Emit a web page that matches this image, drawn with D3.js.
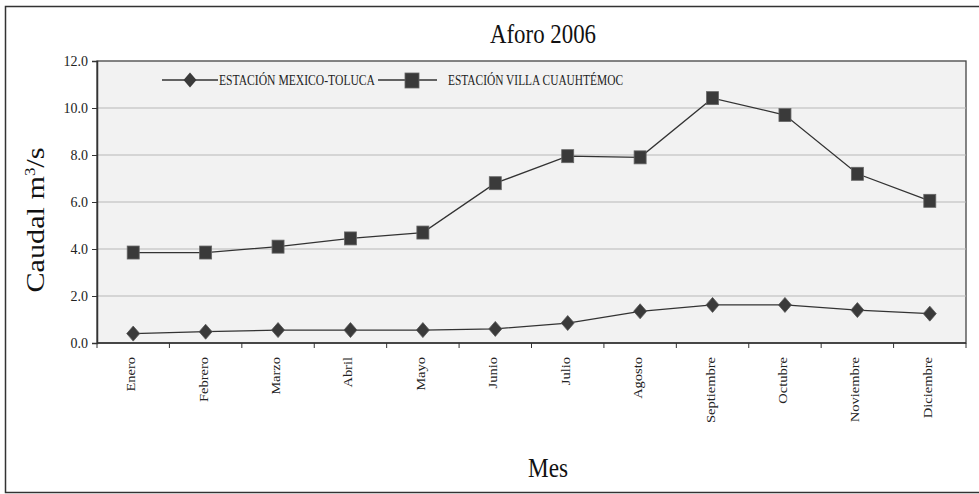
<!DOCTYPE html>
<html>
<head>
<meta charset="utf-8">
<script src="https://cdn.jsdelivr.net/npm/d3@7"></script>
<style>
  html, body { margin: 0; padding: 0; background: #fff; }
  svg { display: block; font-family: "Liberation Serif", "Times New Roman", serif; }
  svg text { font-family: "Liberation Serif", "Times New Roman", serif; }
</style>
</head>
<body>
<svg id="chart" width="979" height="494"></svg>
<script>
// Monthly discharge (m³/s), 2006
const months = ["Enero", "Febrero", "Marzo", "Abril", "Mayo", "Junio", "Julio",
                "Agosto", "Septiembre", "Octubre", "Noviembre", "Diciembre"];
const mexicoToluca = [0.40, 0.48, 0.55, 0.55, 0.55, 0.60, 0.85, 1.35, 1.62, 1.62, 1.40, 1.25];
const villaCuauhtemoc = [3.85, 3.85, 4.10, 4.45, 4.70, 6.80, 7.95, 7.90, 10.42, 9.70, 7.20, 6.05];
const yTicks = [0, 2, 4, 6, 8, 10, 12];
const seriesNames = ["ESTACIÓN MEXICO-TOLUCA", "ESTACIÓN VILLA CUAUHTÉMOC"];

const svg = d3.select("#chart");
const m = { left: 97, top: 61, right: 966, bottom: 343 };

// outer frame
svg.append("rect")
  .attr("x", 5.5).attr("y", 6.5).attr("width", 990).attr("height", 486)
  .attr("fill", "#fff").attr("stroke", "#333").attr("stroke-width", 1.5);

const x = d3.scaleBand().domain(months).range([m.left, m.right]).padding(0);
const y = d3.scaleLinear().domain([0, 12]).range([m.bottom, m.top]);
const cx = d => x(d) + x.bandwidth() / 2;

// plot background
svg.append("rect")
  .attr("x", m.left).attr("y", m.top)
  .attr("width", m.right - m.left).attr("height", m.bottom - m.top)
  .attr("fill", "#f2f2f2").attr("stroke", "#444").attr("stroke-width", 1.3);

// gridlines
svg.append("g").selectAll("line")
  .data(yTicks.filter(d => d > 0 && d < 12))
  .join("line")
  .attr("x1", m.left).attr("x2", m.right)
  .attr("y1", d => y(d)).attr("y2", d => y(d))
  .attr("stroke", "#b8b8b8").attr("stroke-width", 1.2);

// y axis
const yAxis = svg.append("g")
  .attr("transform", `translate(${m.left},0)`)
  .call(d3.axisLeft(y).tickValues(yTicks).tickFormat(d3.format(".1f")).tickSize(5).tickPadding(4))
  .attr("font-family", "Liberation Serif");
yAxis.select(".domain").attr("stroke", "#333").attr("stroke-width", 1.5);
yAxis.selectAll(".tick line").attr("stroke", "#333");
yAxis.selectAll(".tick text")
  .attr("font-size", 14).attr("fill", "#222");

// x axis: ticks at category boundaries
const boundaries = months.map(d => x(d)).concat([m.right]);
const xAxisG = svg.append("g");
xAxisG.append("line")
  .attr("x1", m.left).attr("x2", m.right)
  .attr("y1", m.bottom).attr("y2", m.bottom)
  .attr("stroke", "#333").attr("stroke-width", 1.5);
xAxisG.selectAll("line.tk").data(boundaries).join("line")
  .attr("class", "tk")
  .attr("x1", d => d).attr("x2", d => d)
  .attr("y1", m.bottom).attr("y2", m.bottom + 5)
  .attr("stroke", "#333");
xAxisG.selectAll("text").data(months).join("text")
  .attr("transform", d => `translate(${cx(d) + 2},${m.bottom + 14}) rotate(-90) scale(1,0.9)`)
  .attr("text-anchor", "end")
  .attr("font-size", 14.5).attr("fill", "#222")
  .text(d => d);

// lines
const line = d3.line()
  .x((d, i) => cx(months[i]))
  .y(d => y(d));

[mexicoToluca, villaCuauhtemoc].forEach(s => {
  svg.append("path").datum(s)
    .attr("d", line).attr("fill", "none")
    .attr("stroke", "#333").attr("stroke-width", 1.3);
});

const diamond = (px, py) => `M${px},${py - 7.5} L${px + 6.5},${py} L${px},${py + 7.5} L${px - 6.5},${py} Z`;
const markerFill = "#3a3a3a";

svg.append("g").selectAll("path").data(mexicoToluca).join("path")
  .attr("d", (d, i) => diamond(cx(months[i]), y(d)))
  .attr("fill", markerFill).attr("stroke", "#555").attr("stroke-width", 0.8);

svg.append("g").selectAll("rect").data(villaCuauhtemoc).join("rect")
  .attr("x", (d, i) => cx(months[i]) - 6)
  .attr("y", d => y(d) - 6.5)
  .attr("width", 12).attr("height", 13)
  .attr("fill", markerFill).attr("stroke", "#666").attr("stroke-width", 0.8);

// legend
const ly = 80;
const lg = svg.append("g");
lg.append("line").attr("x1", 162).attr("x2", 218).attr("y1", ly).attr("y2", ly)
  .attr("stroke", "#333").attr("stroke-width", 1.3);
lg.append("path").attr("d", diamond(190, ly)).attr("fill", markerFill);
lg.append("text").attr("x", 219).attr("y", ly + 5)
  .attr("font-size", 14.5).attr("fill", "#222")
  .attr("textLength", 156).attr("lengthAdjust", "spacingAndGlyphs")
  .text(seriesNames[0]);
lg.append("line").attr("x1", 378).attr("x2", 437).attr("y1", ly).attr("y2", ly)
  .attr("stroke", "#333").attr("stroke-width", 1.3);
lg.append("rect").attr("x", 405).attr("y", ly - 7).attr("width", 14).attr("height", 15)
  .attr("fill", markerFill).attr("stroke", "#666").attr("stroke-width", 0.8);
lg.append("text").attr("x", 448).attr("y", ly + 5)
  .attr("font-size", 14.5).attr("fill", "#222")
  .attr("textLength", 175).attr("lengthAdjust", "spacingAndGlyphs")
  .text(seriesNames[1]);

// titles
svg.append("text").attr("x", 543).attr("y", 43)
  .attr("text-anchor", "middle").attr("font-size", 28).attr("fill", "#111")
  .attr("textLength", 106).attr("lengthAdjust", "spacingAndGlyphs")
  .text("Aforo 2006");
svg.append("text").attr("x", 548).attr("y", 477)
  .attr("text-anchor", "middle").attr("font-size", 27).attr("fill", "#111")
  .attr("textLength", 40).attr("lengthAdjust", "spacingAndGlyphs")
  .text("Mes");
const yt = svg.append("text")
  .attr("transform", "translate(44,220) rotate(-90)")
  .attr("text-anchor", "middle").attr("font-size", 25).attr("fill", "#111")
  .attr("textLength", 145).attr("lengthAdjust", "spacingAndGlyphs");
yt.append("tspan").text("Caudal m");
yt.append("tspan").attr("font-size", 14).attr("dy", -9).text("3");
yt.append("tspan").attr("dy", 9).text("/s");
</script>
</body>
</html>
